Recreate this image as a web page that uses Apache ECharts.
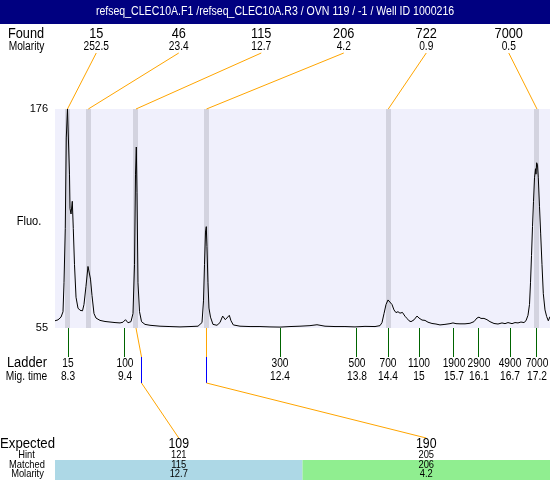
<!DOCTYPE html>
<html>
<head>
<meta charset="utf-8">
<script src="https://cdn.jsdelivr.net/npm/echarts@6/dist/echarts.min.js"></script>
<style>
html,body{margin:0;padding:0;background:#fff;}
#chart{width:550px;height:480px;}
</style>
</head>
<body>
<div id="chart"></div>
<script>
const titleText = 'refseq_CLEC10A.F1 /refseq_CLEC10A.R3 / OVN 119 / -1 / Well ID 1000216';

const foundSizes = [15, 46, 115, 206, 722, 7000];
const foundMolarity = ['252.5', '23.4', '12.7', '4.2', '0.9', '0.5'];
const foundTimes = [8.290, 8.685, 9.590, 10.928, 14.378, 17.200];

const ladderSizes = [15, 100, 300, 500, 700, 1100, 1900, 2900, 4900, 7000];
const ladderTimes = [8.300, 9.381, 12.323, 13.784, 14.373, 14.961, 15.625, 16.099, 16.688, 17.200];
const ladderTimeLabels = ['8.3', '9.4', '12.4', '13.8', '14.4', '15', '15.7', '16.1', '16.7', '17.2'];

const expectedSizes = [109, 190];
const hintSizes = [121, 205];
const hintTimes = [9.700, 10.932];
const matchedSizes = [115, 206];
const matchedPeakTimes = [9.590, 10.928];
const matchedMolarity = ['12.7', '4.2'];

const yTickLabels = [55, 176];

const traceTime = [8.053,8.110,8.167,8.205,8.224,8.248,8.267,8.290,8.305,8.328,8.338,8.357,8.381,8.400,8.423,8.452,8.489,8.527,8.575,8.603,8.641,8.679,8.698,8.727,8.755,8.793,8.831,8.907,9.002,9.097,9.192,9.287,9.343,9.391,9.438,9.495,9.533,9.562,9.581,9.596,9.609,9.628,9.657,9.695,9.761,9.856,10.046,10.235,10.425,10.615,10.767,10.843,10.871,10.890,10.909,10.924,10.937,10.956,10.975,11.004,11.051,11.127,11.184,11.235,11.285,11.317,11.361,11.393,11.437,11.564,11.754,11.943,12.133,12.323,12.513,12.702,12.892,13.025,13.177,13.367,13.556,13.746,13.936,14.126,14.221,14.259,14.297,14.335,14.373,14.410,14.448,14.486,14.524,14.562,14.600,14.647,14.695,14.733,14.771,14.809,14.866,14.923,14.961,15.018,15.075,15.132,15.207,15.283,15.359,15.454,15.549,15.606,15.663,15.739,15.834,15.928,16.004,16.061,16.099,16.137,16.194,16.251,16.308,16.384,16.460,16.536,16.593,16.650,16.726,16.783,16.840,16.896,16.953,16.991,17.029,17.058,17.077,17.096,17.115,17.134,17.153,17.172,17.181,17.194,17.210,17.225,17.248,17.270,17.295,17.320,17.352,17.384,17.415,17.447];
const traceFluo = [59.0,59.5,61,64,80,110,160,176,176,140,121,118,125,110,90,72,66,64.8,64.5,68,78,89,90,82,73,63,60.5,59.2,58.6,58.3,58.0,57.8,58.2,59.6,57.9,58.5,63,90,140,155,130,80,64,58.5,57,56.5,56,55.8,55.6,55.8,56,58,70,90,108,111,100,80,66,61,57,56.5,58,61.6,59.6,60,62,59,56.7,56,55.8,55.8,55.6,55.5,55.8,56,56.3,56.8,56,55.8,55.8,55.6,55.9,55.8,56.3,58,63,68,70.5,70,68,65,63.5,64,63.2,63.6,61.5,60.3,59,58.5,59.5,61.6,60.5,59.4,59.2,58.2,57.5,57.2,56.7,57,57.4,57.8,57.4,57.3,57.3,57.6,58.5,60.5,61,60.3,60.3,59.6,58.5,57.5,57.2,57.8,57.4,58,57.4,58,57.8,58.3,58,59,62,68,80,95,111,125,138,143,140,146.3,145,138,122,107,90,74,65,61.3,59,61.3];

const FONT = '"Liberation Sans", Arial, sans-serif';
const ORANGE = '#ffa500';

function txt(text, x, y, size, color, sx) {
  return { type: 'text', x: x, y: y, scaleX: sx || 0.85,
    style: { text: String(text), x: 0, y: 0, align: 'center', verticalAlign: 'middle', font: size + 'px ' + FONT, fill: color || '#000' } };
}
function snap(v) { return Math.round(v - 0.5) + 0.5; }

const chart = echarts.init(document.getElementById('chart'), null, { renderer: 'canvas' });

const option = {
  animation: false,
  backgroundColor: '#fff',
  grid: { left: 55, right: 0, top: 109, bottom: 152, show: true, backgroundColor: '#f0f0fc', borderWidth: 0 },
  xAxis: {
    type: 'value', min: 8.053, max: 17.447,
    axisLine: { show: false }, axisTick: { show: false }, axisLabel: { show: false }, splitLine: { show: false }
  },
  yAxis: {
    type: 'value', min: yTickLabels[0], max: yTickLabels[1], interval: yTickLabels[1] - yTickLabels[0],
    axisLine: { show: false }, axisTick: { show: false }, splitLine: { show: false },
    axisLabel: { color: '#000', fontSize: 11, fontFamily: FONT, margin: 7 }
  },
  graphic: [
    { type: 'rect', shape: { x: 0, y: 0, width: 550, height: 24 }, style: { fill: '#000080' } },
    txt(titleText, 275, 12, 12, '#fff', 0.88),
    txt('Found', 26, 34, 15),
    txt('Molarity', 26.5, 47, 12),
    txt('Fluo.', 29, 221, 13),
    txt('Ladder', 27, 363.5, 14, '#000', 0.92),
    txt('Mig. time', 26.5, 376.5, 12),
    txt('Expected', 27.5, 444, 15, '#000', 0.88),
    txt('Hint', 26.5, 455, 11),
    txt('Matched', 27, 464.5, 11),
    txt('Molarity', 27.5, 473.5, 11)
  ],
  series: [
    {
      name: 'bands', type: 'custom', z: 1, clip: false, silent: true,
      data: foundTimes.map((t, i) => [t, 55, i]),
      renderItem: function (params, api) {
        const i = params.dataIndex;
        const cs = params.coordSys;
        const x = api.coord([api.value(0), 55])[0];
        const colW = cs.width / foundSizes.length;
        const cx = cs.x + colW * (i + 0.5);
        return { type: 'group', children: [
          { type: 'rect', shape: { x: Math.round(x - 2.5), y: cs.y, width: 5, height: cs.height }, style: { fill: '#d3d3df' } },
          { type: 'line', shape: { x1: cx, y1: 53, x2: x, y2: cs.y }, style: { stroke: ORANGE, lineWidth: 1 } },
          txt(foundSizes[i], cx, 34, 15),
          txt(foundMolarity[i], cx, 47, 12)
        ] };
      }
    },
    {
      name: 'trace', type: 'line', z: 3, showSymbol: false, symbol: 'none',
      lineStyle: { color: '#000', width: 1 },
      data: traceTime.map((t, i) => [t, traceFluo[i]])
    },
    {
      name: 'ladder', type: 'custom', z: 2, clip: false, silent: true,
      data: ladderTimes.map((t, i) => [t, 55, i]),
      renderItem: function (params, api) {
        const i = params.dataIndex;
        const cs = params.coordSys;
        const x = api.coord([api.value(0), 55])[0];
        const b = cs.y + cs.height;
        return { type: 'group', children: [
          { type: 'line', shape: { x1: snap(x), y1: b, x2: snap(x), y2: b + 29 }, style: { stroke: '#006400', lineWidth: 1 } },
          txt(ladderSizes[i], x, 363.5, 12),
          txt(ladderTimeLabels[i], x, 376.5, 12)
        ] };
      }
    },
    {
      name: 'matched', type: 'custom', z: 2, clip: false, silent: true,
      data: matchedPeakTimes.map((t, i) => [t, 55, i]),
      renderItem: function (params, api) {
        const i = params.dataIndex;
        const cs = params.coordSys;
        const x0 = api.coord([api.value(0), 55])[0];
        const xh = snap(api.coord([hintTimes[i], 55])[0]);
        const b = cs.y + cs.height;
        const colW = cs.width / expectedSizes.length;
        const cx = cs.x + colW * (i + 0.5);
        const colors = ['#add8e6', '#90ee90'];
        return { type: 'group', children: [
          { type: 'rect', shape: { x: cs.x + colW * i, y: 460, width: colW, height: 20 }, style: { fill: colors[i % 2] } },
          { type: 'line', shape: { x1: x0, y1: b, x2: xh, y2: b + 29 }, style: { stroke: ORANGE, lineWidth: 1 } },
          { type: 'line', shape: { x1: xh, y1: b + 29, x2: xh, y2: b + 55 }, style: { stroke: '#0000ff', lineWidth: 1 } },
          { type: 'line', shape: { x1: xh, y1: b + 55, x2: cx, y2: 438 }, style: { stroke: ORANGE, lineWidth: 1 } },
          txt(expectedSizes[i], cx, 444, 15, '#000', 0.82),
          txt(hintSizes[i], cx, 455, 11),
          txt(matchedSizes[i], cx, 464.5, 11),
          txt(matchedMolarity[i], cx, 473.5, 11)
        ] };
      }
    }
  ]
};
chart.setOption(option);
</script>
</body>
</html>
